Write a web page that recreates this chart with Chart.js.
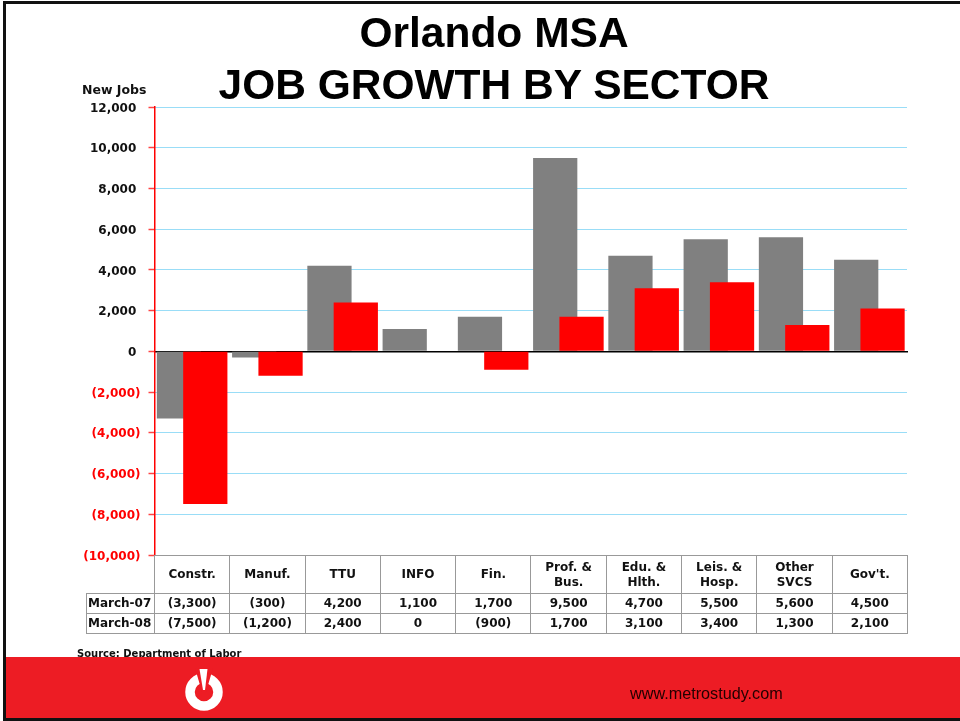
<!DOCTYPE html>
<html>
<head>
<meta charset="utf-8">
<script src="https://cdn.jsdelivr.net/npm/chart.js@4"></script>
<style>
html, body { margin: 0; padding: 0; background: #fff; }
#page { position: relative; width: 960px; height: 721px; overflow: hidden; background: #fff; }
#page > * { position: absolute; }
#frameTop { left: 3px; right: 0; top: 1px; height: 3px; background: #111; }
#frameLeft { left: 3px; top: 1px; width: 3px; bottom: 0; background: #111; }
#chart { left: 0; top: 0; }
.title { left: 0; width: 988px; text-align: center; font: bold 42.5px "Liberation Sans", sans-serif; color: #000; white-space: nowrap; line-height: 52px; }
#yTitle { left: 82px; top: 82px; font: bold 12.5px "DejaVu Sans", sans-serif; color: #111; white-space: nowrap; }
#source { left: 77px; top: 648px; font: bold 10px "DejaVu Sans", sans-serif; color: #111; white-space: nowrap; }
#band { left: 6px; right: 0; top: 657px; height: 61px; background: #ed1c24; }
#frameBottom { left: 3px; right: 0; top: 718px; height: 3px; background: #111; }
#url { left: 630px; top: 684px; font: 16.2px "Liberation Sans", sans-serif; color: #220000; white-space: nowrap; }
#logo { left: 182px; top: 668px; }
table { border-collapse: collapse; table-layout: fixed; font: bold 12px "DejaVu Sans", sans-serif; color: #111; }
td { border: 1px solid #999; padding: 0; text-align: center; line-height: 15px; overflow: hidden; }
#dataTable { left: 86px; top: 555px; width: 821px; }
#dataTable td.blank { border: 0; border-right: 1px solid #999; }
#dataTable td.rowName { text-align: left; padding-left: 1px; }
#dataTable tr.head td { height: 37px; }
#dataTable tr.vals td { height: 19px; }
</style>
</head>
<body>
<div id="page">
  <canvas id="chart" width="960" height="721"></canvas>
  <div id="frameTop"></div>
  <div id="frameLeft"></div>
  <div class="title" style="top:7px">Orlando MSA</div>
  <div class="title" style="top:59px">JOB GROWTH BY SECTOR</div>
  <div id="yTitle">New Jobs</div>
  <table id="dataTable"></table>
  <div id="source">Source: Department of Labor</div>
  <div id="band"></div>
  <div id="frameBottom"></div>
  <svg id="logo" width="44" height="46" viewBox="0 0 44 46">
    <circle cx="22" cy="24" r="14" fill="none" stroke="#fff" stroke-width="9.5"/>
    <path d="M13 0 L31 0 L24 24 L20 24 Z" fill="#ed1c24"/>
    <path d="M17.5 1 L25.5 1 L23 22 L21 22 Z" fill="#fff"/>
  </svg>
  <div id="url">www.metrostudy.com</div>
</div>
<script>
const categories = [["Constr."], ["Manuf."], ["TTU"], ["INFO"], ["Fin."], ["Prof. &", "Bus."], ["Edu. &", "Hlth."], ["Leis. &", "Hosp."], ["Other", "SVCS"], ["Gov't."]];
const seriesNames = ["March-07", "March-08"];
const march07 = [-3300, -300, 4200, 1100, 1700, 9500, 4700, 5500, 5600, 4500];
const march08 = [-7500, -1200, 2400, 0, -900, 1700, 3100, 3400, 1300, 2100];
const yMin = -10000;
const yMax = 12000;
const yStep = 2000;

function money(v) {
    const s = Math.abs(v).toLocaleString("en-US");
    return v < 0 ? "(" + s + ")" : s;
}

function buildTable() {
    const table = document.getElementById("dataTable");
    let html = '<colgroup><col style="width:68px">' + categories.map(() => '<col style="width:75.3px">').join("") + "</colgroup>";
    html += '<tr class="head"><td class="blank"></td>' + categories.map(c => "<td>" + c.join("<br>") + "</td>").join("") + "</tr>";
    [march07, march08].forEach((vals, i) => {
        html += '<tr class="vals"><td class="rowName">' + seriesNames[i] + "</td>" + vals.map(v => "<td>" + money(v) + "</td>").join("") + "</tr>";
    });
    table.innerHTML = html;
}
buildTable();

Chart.defaults.font.family = '"DejaVu Sans", sans-serif';

// the later series has to sit on top of the earlier one where the bars overlap
const redOnTop = {
    id: "redOnTop",
    beforeDatasetsDraw(chart) {
        chart.getDatasetMeta(0).controller.draw();
        chart.getDatasetMeta(1).controller.draw();
        return false;
    },
};

new Chart(document.getElementById("chart"), {
    type: "bar",
    plugins: [redOnTop],
    data: {
        labels: categories.map(c => c.join(" ")),
        datasets: [
            { label: seriesNames[0], data: march07, backgroundColor: "#808080" },
            { label: seriesNames[1], data: march08, backgroundColor: "#ff0000" },
        ],
    },
    options: {
        responsive: false,
        animation: false,
        categoryPercentage: 0.7,
        barPercentage: 1.68,
        layout: { padding: { left: 0, right: 53, top: 107, bottom: 166 } },
        plugins: { legend: { display: false }, tooltip: { enabled: false } },
        scales: {
            x: {
                position: { y: 0 },
                grid: { display: false },
                ticks: { display: false },
                border: { color: "#000", width: 1.5 },
            },
            y: {
                min: yMin,
                max: yMax,
                afterFit(scale) { scale.width = 154.5; },
                grid: {
                    color: "#33bbee",
                    lineWidth: 1,
                    tickColor: "#ff4444",
                    tickWidth: 1.5,
                    tickLength: 6,
                },
                border: { color: "#ff0000", width: 1.5, dash: [1, 1] },
                ticks: {
                    stepSize: yStep,
                    padding: 8,
                    labelOffset: 1.5,
                    font: { size: 12, weight: "bold" },
                    color: ctx => (ctx.tick.value < 0 ? "#ff0000" : "#111"),
                    // closing bracket hangs past the digits, so pad the plain labels
                    callback: v => (v < 0 ? money(v) : money(v) + "\u00a0"),
                },
            },
        },
    },
});
</script>
</body>
</html>
